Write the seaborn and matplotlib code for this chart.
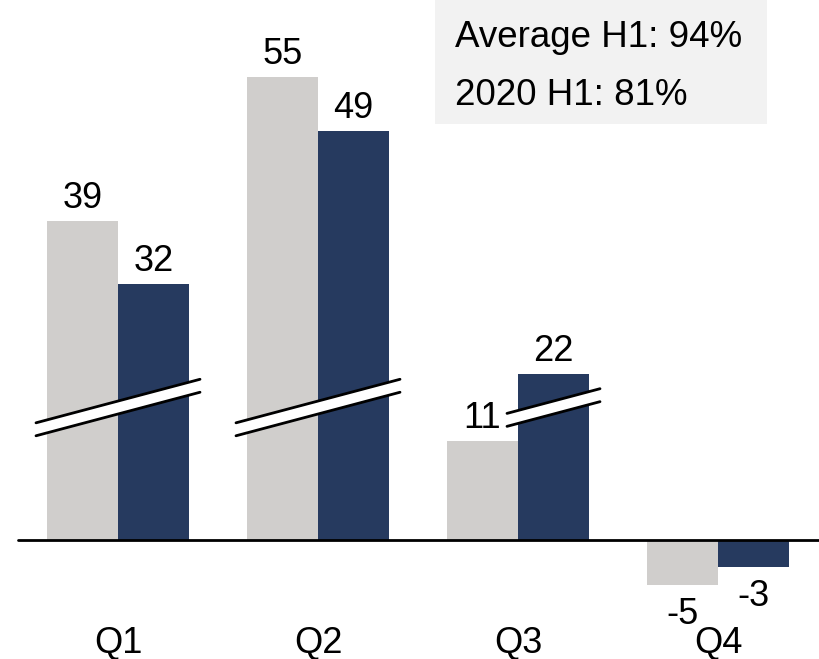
import numpy as np
import pandas as pd
import matplotlib.pyplot as plt
import seaborn as sns
from matplotlib.patches import Polygon, Rectangle

# data
quarters = ["Q1", "Q2", "Q3", "Q4"]
avg_vals = [39, 55, 11, -5]
y2020_vals = [32, 49, 22, -3]
series = ["Average", "2020"]
box_lines = ["Average H1: 94%", "2020 H1: 81%"]

colors = {"Average": "#d0cecc", "2020": "#263a5f"}

# broken axis: bars above the threshold are shortened by a fixed gap
break_at = 15
gap = 3.6

df = pd.DataFrame({
    "quarter": quarters * 2,
    "series": [series[0]] * 4 + [series[1]] * 4,
    "value": avg_vals + y2020_vals,
})
df["shown"] = np.where(df["value"] > break_at, df["value"] - gap, df["value"])

sns.set_style("white")
plt.rcParams["font.family"] = ["Liberation Sans", "DejaVu Sans"]
plt.rcParams["text.color"] = "black"

fig = plt.figure(figsize=(8.19, 6.59), dpi=100)
ax = fig.add_axes([0, 0, 1, 1])

width = 0.71
sns.barplot(data=df, x="quarter", y="shown", hue="series", order=quarters,
            hue_order=series, palette=colors, width=width, linewidth=0,
            saturation=1, legend=False, ax=ax)

ax.set_xlim(-0.59, 3.505)
ax.set_ylim(-13.22, 60)
ax.axis("off")

# baseline
ax.plot([-0.5, 3.6], [0, 0], color="black", lw=2, zorder=3, clip_on=False)

fs = 26
bw = width / 2
# value labels and category labels
for i, q in enumerate(quarters):
    for j, s in enumerate(series):
        row = df[(df["quarter"] == q) & (df["series"] == s)].iloc[0]
        xc = i - bw / 2 + j * bw
        if row["value"] >= 0:
            ax.text(xc, row["shown"] + 1.5, str(row["value"]), ha="center",
                    va="baseline", fontsize=fs)
        else:
            ax.text(xc, row["shown"] - 4.3, str(row["value"]), ha="center",
                    va="baseline", fontsize=fs)
    ax.text(i, -12.55, q, ha="center", va="baseline", fontsize=fs)

# break symbols
slope = 5.9  # data units of y per unit of x
half_h = 0.72
ext = 0.055
breaks = []
for i, q in enumerate(quarters):
    over = df[(df["quarter"] == q) & (df["value"] > break_at)]
    if len(over) == 0:
        continue
    idx = [series.index(s) for s in over["series"]]
    x0 = i - bw + min(idx) * bw - ext
    x1 = i - bw + (max(idx) + 1) * bw + ext
    breaks.append((x0, x1))

for x0, x1 in breaks:
    xm = (x0 + x1) / 2
    ym = 14.72
    y0 = ym - slope * (xm - x0)
    y1 = ym + slope * (x1 - xm)
    poly = Polygon([(x0, y0 - half_h), (x1, y1 - half_h), (x1, y1 + half_h), (x0, y0 + half_h)],
                   closed=True, facecolor="white", edgecolor="none", zorder=4)
    ax.add_patch(poly)
    ax.plot([x0, x1], [y0 + half_h, y1 + half_h], color="black", lw=2, zorder=5)
    ax.plot([x0, x1], [y0 - half_h, y1 - half_h], color="black", lw=2, zorder=5)

# info box
fig.patches.append(Rectangle((435 / 819, 1 - 124 / 659), 332 / 819, 124 / 659,
                             transform=fig.transFigure, facecolor="#f2f2f2",
                             edgecolor="none", zorder=0))
fig.text(455 / 819, 1 - 46.7 / 659, box_lines[0], fontsize=26.5, va="baseline")
fig.text(455 / 819, 1 - 105 / 659, box_lines[1], fontsize=26.5, va="baseline")

fig.savefig("out.png", dpi=100)
